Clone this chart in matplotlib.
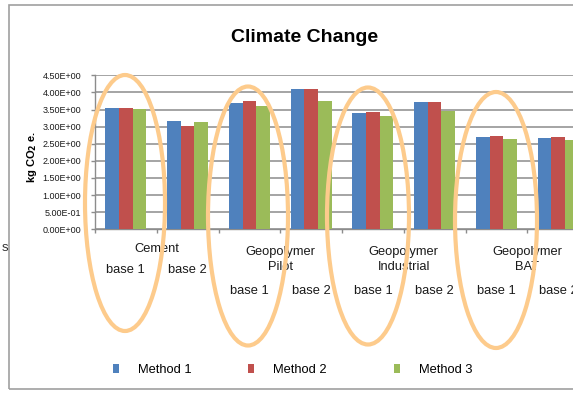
import matplotlib
matplotlib.use("Agg")
import matplotlib.pyplot as plt
from matplotlib.patches import Ellipse, Rectangle, Patch
import numpy as np

methods = ["Method 1", "Method 2", "Method 3"]
m1 = [3.53, 3.16, 3.69, 4.11, 3.39, 3.73, 2.69, 2.66]
m2 = [3.53, 3.02, 3.75, 4.11, 3.42, 3.73, 2.72, 2.69]
m3 = [3.51, 3.13, 3.61, 3.76, 3.32, 3.46, 2.64, 2.61]
bases = ["base 1", "base 2"] * 4
materials = ["Cement", "Geopolymer\nPilot", "Geopolymer\nIndustrial", "Geopolymer\nBAT"]
yticks = [0, 0.5, 1.0, 1.5, 2.0, 2.5, 3.0, 3.5, 4.0, 4.5]
colors = ["#4F81BD", "#C0504D", "#9BBB59"]

W, H = 573, 393
fig = plt.figure(figsize=(W / 100, H / 100), dpi=100)
FONT = "Liberation Sans"

def px(x, y):
    return x / W, 1 - y / H

ax = fig.add_axes([95 / W, 1 - 229.3 / H, (589 - 95) / W, (229.3 - 75.3) / H])
x = np.arange(len(m1)) + 0.5
bw = 0.222
for i, (vals, c) in enumerate(zip([m1, m2, m3], colors)):
    ax.bar(x + (i - 1) * bw, vals, bw, color=c, zorder=3, label=methods[i])

ax.set_xlim(0, 8)
ax.set_ylim(0, 4.5)
ax.set_yticks(yticks)
ax.set_yticklabels([f"{v:.2E}" for v in yticks], fontfamily=FONT, fontsize=6.5,
                   color="#1a1a1a")
ax.set_xticks(np.arange(0, 9))
ax.set_xticklabels([])
ax.yaxis.grid(True, color="#8c8c8c", linewidth=1.1, zorder=0)
for s in ["top", "right"]:
    ax.spines[s].set_visible(False)
for s in ["left", "bottom"]:
    ax.spines[s].set_color("#8c8c8c")
    ax.spines[s].set_linewidth(1.0)
ax.tick_params(axis="both", color="#8c8c8c", length=3, width=1)
ax.tick_params(axis="y", pad=7)

# category labels
for i, b in enumerate(bases):
    grp = i // 2
    yy = 270 if grp == 0 else 291
    fig.text(*px(95 + 61.75 * (i + 0.5), yy), b, ha="center", va="center",
             fontsize=9.3, family=FONT, color="#1a1a1a")
for j, m in enumerate(materials):
    cx = 95 + 61.75 * (2 * j + 1)
    if j == 0:
        fig.text(*px(cx, 249), m, ha="center", va="center", fontsize=9.3,
                 family=FONT, color="#1a1a1a")
    else:
        fig.text(*px(cx, 259.5), m, ha="center", va="center", fontsize=9.3,
                 family=FONT, color="#1a1a1a", linespacing=1.35)

fig.text(*px(305, 37), "Climate Change", ha="center", va="center",
         fontsize=14, fontweight="bold", family=FONT)
fig.text(*px(32, 157), r"kg CO$_\mathbf{2}$ e.", rotation=90, ha="center", va="center",
         fontsize=8, fontweight="bold", family=FONT)
fig.text(*px(5, 248), "s", ha="center", va="center", fontsize=9.5,
         family=FONT, color="#333333")

# frame
fig.add_artist(Rectangle(px(9, 389), (800 - 9) / W, (389 - 5) / H, transform=fig.transFigure,
                         fill=False, edgecolor="#a0a0a0", linewidth=1.2))

# ellipses
ells = [(125, 203, 80, 256), (248, 216, 80, 259), (368, 216, 82, 257), (496, 220, 82, 256)]
for cx, cy, w, h in ells:
    fig.add_artist(Ellipse(px(cx, cy), w / W, h / H, transform=fig.transFigure,
                           fill=False, edgecolor="#FDCB8C", linewidth=3, zorder=10))

# legend entries, one per method
leg_x = [117, 252, 398]
for lx, name, c in zip(leg_x, methods, colors):
    fig.legend([Patch(facecolor=c)], [name], loc="center left",
               bbox_to_anchor=px(lx - 4, 370), frameon=False,
               handlelength=0.45, handleheight=0.75, handletextpad=1.45,
               borderpad=0, borderaxespad=0, prop={"family": FONT, "size": 9.3})

fig.savefig("out.png", dpi=100)
